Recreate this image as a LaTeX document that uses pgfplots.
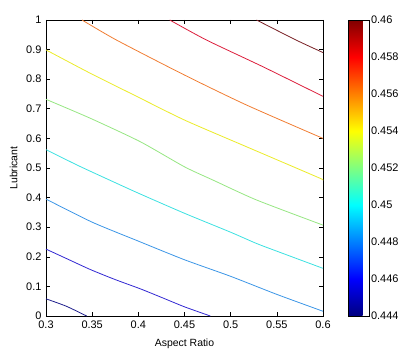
\documentclass[border=0pt]{standalone}
\usepackage{fontspec}
\setmainfont{Liberation Sans}
\usepackage{pgfplots}
\pgfplotsset{compat=1.18}

\definecolor{c1}{RGB}{30,30,140}
\definecolor{c2}{RGB}{50,40,210}
\definecolor{c3}{RGB}{60,150,230}
\definecolor{c4}{RGB}{60,225,225}
\definecolor{c5}{RGB}{150,230,130}
\definecolor{c6}{RGB}{235,235,40}
\definecolor{c7}{RGB}{240,125,50}
\definecolor{c8}{RGB}{220,30,60}
\definecolor{c9}{RGB}{120,30,35}

\begin{document}
\begin{tikzpicture}
\useasboundingbox (-46bp,-37bp) rectangle (362bp,316bp);
\begin{axis}[
    at={(0,0)}, anchor=south west,
    scale only axis,
    width=277bp, height=296bp,
    xmin=0.3, xmax=0.6, ymin=0, ymax=1,
    xtick={0.3,0.35,0.4,0.45,0.5,0.55,0.6},
    xticklabels={0.3,0.35,0.4,0.45,0.5,0.55,0.6},
    ytick={0,0.1,0.2,0.3,0.4,0.5,0.6,0.7,0.8,0.9,1},
    yticklabels={0,0.1,0.2,0.3,0.4,0.5,0.6,0.7,0.8,0.9,1},
    tick align=inside, tick pos=both,
    major tick length=4bp,
    axis line style={black, line width=0.9pt},
    tick style={black, line width=0.6pt},
    ticklabel style={font=\fontsize{11}{13}\selectfont},
    xticklabel style={yshift=-1bp},
    yticklabel style={xshift=-1bp},
    xlabel={Aspect Ratio}, ylabel={Lubricant},
    label style={font=\fontsize{10.5}{12}\selectfont},
    xlabel style={yshift=-4bp},
    ylabel style={yshift=2bp},
    /pgf/number format/assume math mode=true,
    colormap/jet,
    point meta min=0.444, point meta max=0.46,
    colorbar,
    colorbar style={
        at={(parent axis.north east)}, anchor=north west,
        xshift=17bp,
        scale only axis,
        width=21bp, height=296bp,
        ytick={0.444,0.446,0.448,0.45,0.452,0.454,0.456,0.458,0.46},
        yticklabels={0.444,0.446,0.448,0.45,0.452,0.454,0.456,0.458,0.46},
        yticklabel style={font=\fontsize{11}{13}\selectfont, xshift=-2bp},
        major tick length=0pt,
        axis line style={black, line width=0.6pt},
    },
    every axis plot/.append style={line width=0.8bp, no marks, smooth, tension=0.4},
    clip=true,
]
\addplot[c1] coordinates {(0.3,0.058) (0.322,0.033) (0.344,0)};
\addplot[c2] coordinates {(0.3,0.226) (0.325,0.19) (0.348,0.157) (0.375,0.123) (0.402,0.092) (0.425,0.063) (0.45,0.031) (0.478,0)};
\addplot[c3] coordinates {(0.3,0.395) (0.35,0.317) (0.4,0.253) (0.45,0.19) (0.5,0.134) (0.55,0.073) (0.6,0.016)};
\addplot[c4] coordinates {(0.3,0.562) (0.335,0.508) (0.369,0.459) (0.4,0.415) (0.45,0.347) (0.5,0.283) (0.528,0.245) (0.55,0.219) (0.6,0.161)};
\addplot[c5] coordinates {(0.3,0.732) (0.348,0.668) (0.402,0.589) (0.45,0.504) (0.481,0.459) (0.528,0.392) (0.6,0.307)};
\addplot[c6] coordinates {(0.3,0.899) (0.348,0.82) (0.395,0.747) (0.45,0.662) (0.517,0.572) (0.597,0.465) (0.6,0.458)};
\addplot[c7] coordinates {(0.339,1) (0.3765,0.932) (0.45,0.814) (0.517,0.713) (0.6,0.6)};
\addplot[c8] coordinates {(0.434,1) (0.474,0.932) (0.535,0.842) (0.6,0.742)};
\addplot[c9] coordinates {(0.528,1) (0.571,0.932) (0.6,0.89)};
\end{axis}
\end{tikzpicture}
\end{document}
